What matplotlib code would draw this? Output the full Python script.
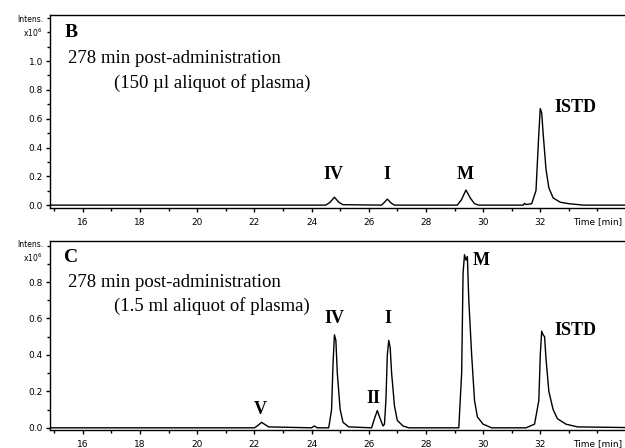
import matplotlib
matplotlib.use("Agg")
import matplotlib.pyplot as plt
from matplotlib.ticker import MultipleLocator, FormatStrFormatter

# ---- data ----
# Panel B trace: retention time (min) and intensity (x10^6)
b_time = [14.8, 24.5, 24.65, 24.8, 24.95, 25.1, 26.45, 26.55, 26.65, 26.78, 26.9,
          29.1, 29.25, 29.4, 29.55, 29.7, 29.85, 31.4, 31.45, 31.5, 31.7, 31.85,
          31.95, 32.0, 32.05, 32.1, 32.2, 32.3, 32.45, 32.7, 33.0, 33.5, 35.7]
b_int = [0.0, 0.0, 0.02, 0.055, 0.02, 0.003, 0.0, 0.02, 0.042, 0.015, 0.0,
         0.0, 0.04, 0.105, 0.05, 0.01, 0.0, 0.0, 0.012, 0.004, 0.01, 0.1,
         0.5, 0.67, 0.64, 0.5, 0.25, 0.12, 0.05, 0.02, 0.01, 0.0, 0.0]

# Panel C trace
c_time = [14.8, 22.0, 22.1, 22.25, 22.35, 22.5, 24.0, 24.1, 24.2, 24.6, 24.7,
          24.75, 24.8, 24.85, 24.9, 25.0, 25.1, 25.3, 26.1, 26.2, 26.3, 26.4,
          26.5, 26.55, 26.6, 26.65, 26.7, 26.75, 26.8, 26.9, 27.0, 27.2, 27.4,
          29.15, 29.25, 29.3, 29.35, 29.4, 29.45, 29.5, 29.6, 29.7, 29.8, 30.0,
          30.3, 31.5, 31.8, 31.95, 32.0, 32.05, 32.1, 32.15, 32.2, 32.3, 32.45,
          32.6, 32.9, 33.3, 35.7]
c_int = [0.0, 0.0, 0.01, 0.03, 0.02, 0.005, 0.0, 0.01, 0.0, 0.0, 0.1,
         0.35, 0.51, 0.48, 0.3, 0.1, 0.03, 0.005, 0.0, 0.05, 0.095, 0.05,
         0.01, 0.02, 0.15, 0.4, 0.48, 0.44, 0.3, 0.12, 0.04, 0.01, 0.0,
         0.0, 0.3, 0.85, 0.95, 0.92, 0.94, 0.7, 0.4, 0.15, 0.06, 0.02,
         0.0, 0.0, 0.02, 0.15, 0.4, 0.53, 0.51, 0.5, 0.38, 0.2, 0.1,
         0.05, 0.02, 0.005, 0.0]

# Peak labels: (text, time, intensity)
b_labels = ["IV", "I", "M", "ISTD"]
b_label_t = [24.75, 26.63, 29.36, 32.5]
b_label_y = [0.21, 0.21, 0.21, 0.68]

c_labels = ["V", "IV", "II", "I", "M", "ISTD"]
c_label_t = [22.2, 24.8, 26.15, 26.66, 29.64, 32.5]
c_label_y = [0.10, 0.60, 0.16, 0.60, 0.92, 0.535]

x_ticks = [16, 18, 20, 22, 24, 26, 28, 30, 32]

serif = ["Liberation Serif", "DejaVu Serif"]

fig = plt.figure(figsize=(6.25, 4.48), dpi=100)

def style_axes(ax, ylim, yticks, ytop):
    ax.set_xlim(14.85, 35.62)
    ax.set_ylim(*ylim)
    ax.spines["right"].set_visible(False)
    for s in ["left", "top", "bottom"]:
        ax.spines[s].set_linewidth(1.0)
    ax.set_xticks(x_ticks)
    ax.xaxis.set_minor_locator(MultipleLocator(1))
    ax.set_yticks(yticks)
    ax.yaxis.set_minor_locator(MultipleLocator(0.1))
    ax.yaxis.set_major_formatter(FormatStrFormatter("%.1f"))
    ax.tick_params(axis="both", which="major", labelsize=6.5, length=3, width=1,
                   direction="out", pad=2)
    ax.tick_params(axis="both", which="minor", length=2, width=1, direction="out")
    ax.tick_params(axis="x", pad=4)
    ax.text(0.963, -0.072, "Time [min]", transform=ax.transAxes, fontsize=6.5,
            ha="right", va="center", clip_on=False)
    ax.text(-0.012, ytop[0], "Intens.", transform=ax.transAxes, fontsize=5.5,
            ha="right", va="center")
    ax.text(-0.012, ytop[1], r"x10$^{6}$", transform=ax.transAxes, fontsize=5.5,
            ha="right", va="center")

# Panel B
axB = fig.add_axes([0.08, 1 - 208 / 448, 0.95, (208 - 15) / 448])
axB.plot(b_time, b_int, color="black", lw=1.0)
style_axes(axB, (-0.02, 1.32), [0.0, 0.2, 0.4, 0.6, 0.8, 1.0], (0.975, 0.91))
axB.text(0.024, 0.91, "B", transform=axB.transAxes, fontsize=14,
         fontweight="bold", family=serif, va="center")
axB.text(0.031, 0.775, "278 min post-administration", transform=axB.transAxes,
         fontsize=13.5, family=serif, va="center")
axB.text(0.107, 0.65, "(150 µl aliquot of plasma)", transform=axB.transAxes,
         fontsize=13.5, family=serif, va="center")
for lab, t, y in zip(b_labels, b_label_t, b_label_y):
    axB.text(t, y, lab, fontsize=13, fontweight="bold", family=serif,
             ha="left" if lab == "ISTD" else "center", va="center")

# Panel C
axC = fig.add_axes([0.08, 1 - 430 / 448, 0.95, (430 - 241) / 448])
axC.plot(c_time, c_int, color="black", lw=1.0)
style_axes(axC, (-0.012, 1.025), [0.0, 0.2, 0.4, 0.6, 0.8], (0.98, 0.91))
axC.text(0.024, 0.915, "C", transform=axC.transAxes, fontsize=14,
         fontweight="bold", family=serif, va="center")
axC.text(0.031, 0.78, "278 min post-administration", transform=axC.transAxes,
         fontsize=13.5, family=serif, va="center")
axC.text(0.107, 0.655, "(1.5 ml aliquot of plasma)", transform=axC.transAxes,
         fontsize=13.5, family=serif, va="center")
for lab, t, y in zip(c_labels, c_label_t, c_label_y):
    axC.text(t, y, lab, fontsize=13, fontweight="bold", family=serif,
             ha="left" if lab in ("ISTD", "M") else "center", va="center")

fig.savefig("out.png", dpi=100)
